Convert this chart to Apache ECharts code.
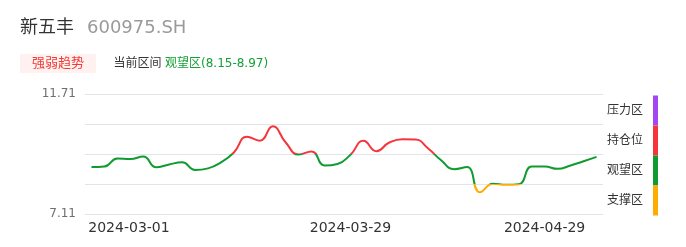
<!DOCTYPE html>
<html><head><meta charset="utf-8">
<script src="https://cdn.jsdelivr.net/npm/echarts@6/dist/echarts.min.js"></script>
<style>html,body{margin:0;padding:0;background:#fff}#c{width:686px;height:247px}</style>
</head><body><div id="c"></div>
<script>
const FONT = '"DejaVu Sans","Noto Sans CJK SC",sans-serif';

const dates = [
  '2024-03-01','2024-03-04','2024-03-05','2024-03-06','2024-03-07','2024-03-08',
  '2024-03-11','2024-03-12','2024-03-13','2024-03-14','2024-03-15',
  '2024-03-18','2024-03-19','2024-03-20','2024-03-21','2024-03-22',
  '2024-03-25','2024-03-26','2024-03-27','2024-03-28','2024-03-29',
  '2024-04-01','2024-04-02','2024-04-08','2024-04-09','2024-04-10','2024-04-11','2024-04-12',
  '2024-04-15','2024-04-16','2024-04-17','2024-04-18','2024-04-19',
  '2024-04-22','2024-04-23','2024-04-24','2024-04-25','2024-04-26',
  '2024-04-29','2024-04-30'
];
const values = [
  8.91, 8.93, 9.24, 9.22, 9.31, 8.90, 9.01, 9.09, 8.80, 8.86,
  9.09, 9.47, 10.07, 9.92, 10.47, 9.85, 9.39, 9.51, 8.97, 9.03,
  9.38, 9.92, 9.52, 9.85, 9.98, 9.97, 9.62, 9.17, 8.83, 8.91,
  7.94, 8.27, 8.23, 8.25, 8.93, 8.93, 8.84, 8.97, 9.13, 9.30
];
const shownDates = ['2024-03-01', '2024-03-29', '2024-04-29'];
const yTicks = [7.11, 8.26, 9.41, 10.56, 11.71];
const zoneNames = ['压力区', '持仓位', '观望区', '支撑区'];      // top -> bottom
const zoneColors = ['#a346f4', '#f5353b', '#0f9b2f', '#ffab00'];  // top -> bottom
const stockName = '新五丰';
const stockCode = '600975.SH';
const tagText = '强弱趋势';
const rangeLabel = '当前区间';
const rangeText = '观望区(8.15-8.97)';

const chart = echarts.init(document.getElementById('c'), null, {renderer: 'canvas'});

const yMin = yTicks[0], yMax = yTicks[yTicks.length - 1];
const pieces = [
  {lt: yTicks[1], color: zoneColors[3]},
  {gte: yTicks[1], lt: yTicks[2], color: zoneColors[2]},
  {gte: yTicks[2], lt: yTicks[3], color: zoneColors[1]},
  {gte: yTicks[3], color: zoneColors[0]}
];

chart.setOption({
  animation: false,
  grid: {left: 85, right: 83, top: 94, bottom: 33},
  xAxis: {
    type: 'category',
    data: dates,
    boundaryGap: true,
    axisLine: {show: false},
    axisTick: {show: false},
    splitLine: {show: false},
    axisLabel: {
      interval: (i, v) => shownDates.indexOf(v) >= 0,
      margin: 7,
      color: '#333',
      fontSize: 14,
      fontFamily: FONT,
      formatter: (v) => {
        const k = shownDates.indexOf(v);
        if (k === 0) return '{l|' + v + '}';
        if (k === shownDates.length - 1) return '{r|' + v + '}';
        return '{m|' + v + '}';
      },
      rich: {
        l: {padding: [0, 0, 0, 75], color: '#333', fontSize: 14, fontFamily: FONT},
        m: {color: '#333', fontSize: 14, fontFamily: FONT},
        r: {padding: [0, 78, 0, 0], color: '#333', fontSize: 14, fontFamily: FONT}
      }
    }
  },
  yAxis: {
    type: 'value',
    min: yMin,
    max: yMax,
    interval: yTicks[1] - yTicks[0],
    axisLine: {show: false},
    axisTick: {show: false},
    splitLine: {show: true, lineStyle: {color: '#e2e4ec', width: 1}},
    axisLabel: {
      margin: 9,
      color: '#6f6f6f',
      fontSize: 12,
      fontFamily: FONT,
      formatter: (v) => (Math.abs(v - yMin) < 1e-6 || Math.abs(v - yMax) < 1e-6) ? v.toFixed(2) : ''
    }
  },
  visualMap: {
    type: 'piecewise',
    show: false,
    dimension: 1,
    seriesIndex: 0,
    pieces: pieces
  },
  series: [{
    type: 'line',
    data: values,
    smooth: true,
    symbol: 'none',
    lineStyle: {width: 2}
  }]
});

// Header and zone legend, positioned through the axis scale
const g = [];
g.push({type: 'text', left: 20, top: 19, style: {text: stockName, font: '18px ' + FONT, fill: '#333'}});
g.push({type: 'text', left: 87, top: 19, style: {text: stockCode, font: '18px ' + FONT, fill: '#9a9a9a'}});
g.push({type: 'rect', shape: {x: 20, y: 54, width: 76, height: 19}, style: {fill: '#fff1ef'}});
g.push({type: 'text', style: {text: tagText, x: 58, y: 63.7, font: '13px ' + FONT, fill: '#f23a36', textAlign: 'center', textVerticalAlign: 'middle'}});
g.push({type: 'text', style: {text: rangeLabel, x: 113.5, y: 63.7, font: '12px ' + FONT, fill: '#333', textVerticalAlign: 'middle'}});
g.push({type: 'text', style: {text: rangeText, x: 165, y: 63.7, font: '12px ' + FONT, fill: '#14a036', textVerticalAlign: 'middle'}});

const gridRight = 686 - 83;
for (let k = 0; k < zoneNames.length; k++) {
  const top = chart.convertToPixel({yAxisIndex: 0}, yTicks[yTicks.length - 1 - k]);
  const bot = chart.convertToPixel({yAxisIndex: 0}, yTicks[yTicks.length - 2 - k]);
  g.push({type: 'rect', shape: {x: gridRight + 50, y: top + 1.5, width: 5, height: bot - top}, style: {fill: zoneColors[k]}});
  g.push({type: 'text', style: {text: zoneNames[k], x: gridRight + 4, y: (top + bot) / 2 + 1.5, font: '12px ' + FONT, fill: '#333', textVerticalAlign: 'middle'}});
}
chart.setOption({graphic: g});
</script>
</body></html>
